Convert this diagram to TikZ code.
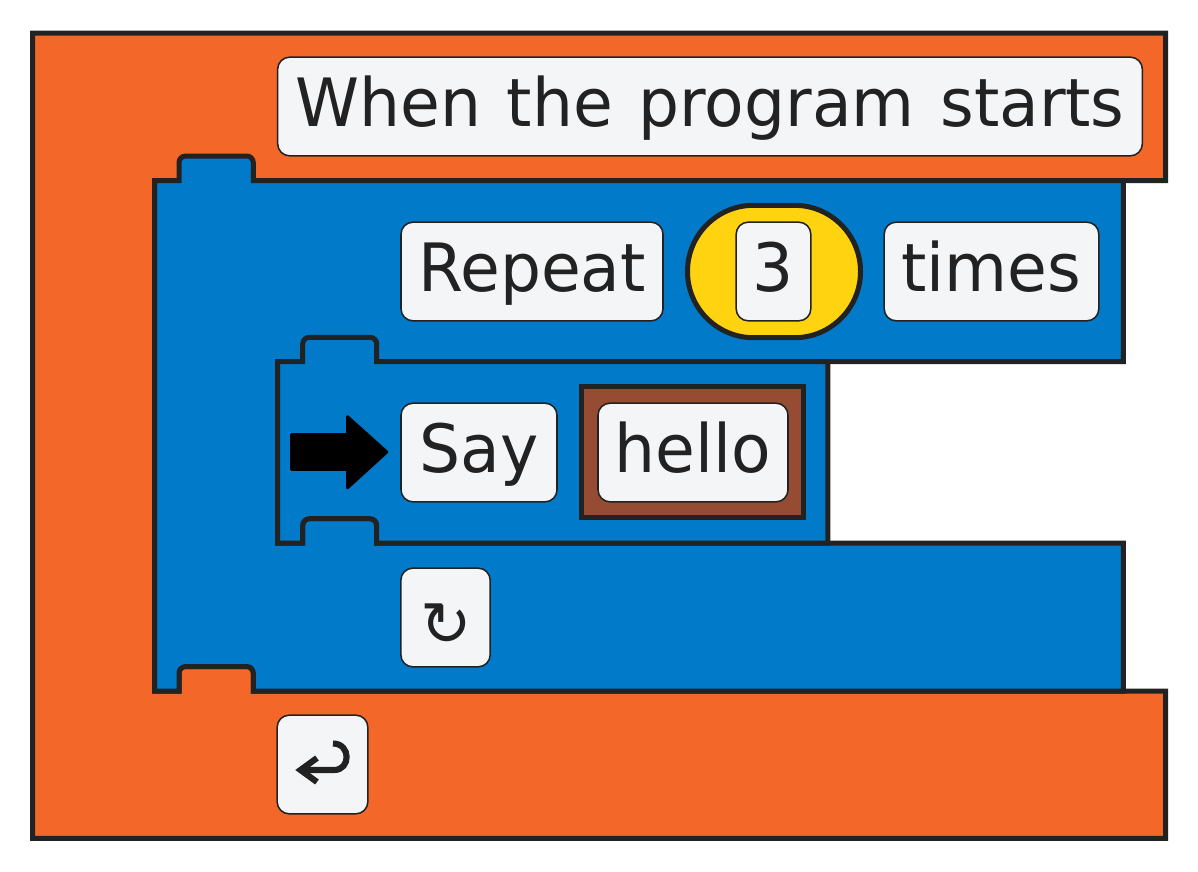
\documentclass[tikz,border=0pt]{standalone}
\usepackage{fontspec}
\setmainfont[FakeStretch=0.97,WordSpace=1.25]{DejaVu Sans}
\newfontfamily\iconfont{DejaVu Sans}
\definecolor{ink}{HTML}{222222}
\definecolor{orangeblk}{HTML}{F36728}
\definecolor{blueblk}{HTML}{007AC9}
\definecolor{yellowblk}{HTML}{FFD30F}
\definecolor{brownblk}{HTML}{964B33}
\definecolor{field}{HTML}{F4F5F7}
\tikzset{
  block/.style={draw=ink,line width=3.75pt,miter limit=10,line join=miter},
  fieldbox/.style={draw=ink,line width=1.15pt,fill=field,rounded corners=9pt,inner sep=0pt,
    text=ink,font=\fontsize{50pt}{50pt}\selectfont,text height=30pt,text depth=0pt,
    minimum height=74pt},
}
\begin{document}
\begin{tikzpicture}[x=0.75pt,y=-0.75pt]
\useasboundingbox (0,0) rectangle (1198,871);
% orange hat block
\path[block,fill=orangeblk] (32.5,33) -- (1165.7,33) -- (1165.7,180.7) -- (154.5,180.7) -- (154.5,691)
  -- (179,691) [rounded corners=5pt] -- (179,666.5) -- (253.3,666.5) [sharp corners] -- (253.3,691)
  -- (1165.7,691) -- (1165.7,838.4) -- (32.5,838.4) -- cycle;
% blue repeat block
\path[block,fill=blueblk] (154.5,180.7) -- (179,180.7) [rounded corners=5pt] -- (179,156) -- (253.3,156) [sharp corners] -- (253.3,180.7)
  -- (1123.3,180.7) -- (1123.3,361.7) -- (277.7,361.7) -- (277.7,543) -- (302.7,543) [rounded corners=5pt] -- (302.7,518.7) -- (376.7,518.7) [sharp corners] -- (376.7,543) -- (1123.3,543) -- (1123.3,691)
  -- (253.3,691) [rounded corners=5pt] -- (253.3,666.5) -- (179,666.5) [sharp corners] -- (179,691) -- (154.5,691) -- cycle;
% blue say block
\path[block,fill=blueblk] (277.7,361.7) -- (302.7,361.7) [rounded corners=5pt] -- (302.7,337.3) -- (376.7,337.3) [sharp corners] -- (376.7,361.7)
  -- (827.8,361.7) -- (827.8,543) -- (376.7,543) [rounded corners=5pt] -- (376.7,518.7) -- (302.7,518.7) [sharp corners] -- (302.7,543)
  -- (277.7,543) -- cycle;
% value shapes
\node[block,fill=yellowblk,rounded corners=49.6pt,minimum width=129.75pt,minimum height=99.3pt,inner sep=0pt] (oval) at (774,271.5) {};
\node[draw=ink,line width=3.75pt,fill=brownblk,minimum width=166.5pt,minimum height=98.5pt,inner sep=0pt] (strshape) at (692.3,452.2) {};
% fields
\node[fieldbox,minimum width=648.5pt] (when) at (710,106.5) {When the program starts};
\node[fieldbox,minimum width=196.5pt] (repeat) at (532,271.5) {Repeat};
\node[fieldbox,minimum width=56pt] (three) at (773.5,271.5) {3};
\node[fieldbox,minimum width=161pt] (times) at (991.5,271.5) {times};
\node[fieldbox,minimum width=117pt] (say) at (479,452.5) {Say};
\node[fieldbox,minimum width=142.5pt] (hello) at (693,452.5) {hello};
\node[fieldbox,minimum width=67pt] (loop) at (445.5,617.5) {};
\node[fieldbox,minimum width=68pt] (ret) at (322.5,764.5) {};
\node[text=ink,inner sep=0pt,font=\iconfont\fontsize{46pt}{46pt}\selectfont] (loopicon) at (446,625) {↻};
% return icon
\draw[ink,line width=4.6pt,line join=miter] (317,758) -- (300.5,770) -- (317,782);
\draw[ink,line width=4.6pt] (300.5,770) -- (334,770) .. controls (351,770) and (351,743.5) .. (333,743.5);
% current statement arrow
\fill[black,draw=black,line width=2pt,line join=round] (291.5,434.5) -- (347.5,434.5) -- (347.5,416.5) -- (387,452) -- (347.5,488) -- (347.5,469.5) -- (291.5,469.5) -- cycle;
\end{tikzpicture}
\end{document}
